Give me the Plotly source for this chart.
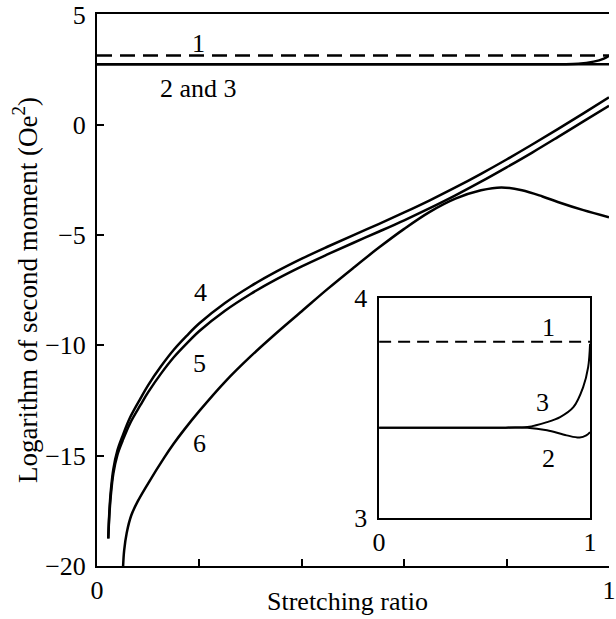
import plotly.graph_objects as go

# ---------------- main panel data ----------------
x_line1 = [0.0, 1.0]
y_line1 = [3.14, 3.14]

x_line23 = [0.0, 0.9, 0.94, 0.97, 0.99, 1.0]
y_line2 = [2.74, 2.74, 2.74, 2.74, 2.74, 2.74]
y_line3 = [2.74, 2.74, 2.76, 2.86, 3.0, 3.12]

x_line45 = [0.022, 0.024, 0.027, 0.032, 0.04, 0.05, 0.065, 0.085, 0.1, 0.125, 0.15, 0.175,
            0.2, 0.25, 0.3, 0.35, 0.4, 0.45, 0.5, 0.55, 0.6, 0.65, 0.7, 0.75, 0.8, 0.85,
            0.9, 0.95, 1.0]
y_line4 = [-18.75, -17.6, -16.6, -15.6, -14.75, -14.1, -13.25, -12.4, -11.8, -10.95, -10.2, -9.57,
           -9.0, -8.08, -7.32, -6.66, -6.07, -5.53, -5.01, -4.5, -3.975, -3.425, -2.843, -2.225,
           -1.575, -0.897, -0.197, 0.518, 1.24]
y_line5 = [-18.75, -17.75, -16.8, -15.8, -14.95, -14.32, -13.51, -12.7, -12.12, -11.28, -10.54, -9.92,
           -9.35, -8.43, -7.67, -7.01, -6.42, -5.88, -5.36, -4.85, -4.33, -3.78, -3.2, -2.58,
           -1.93, -1.26, -0.56, 0.15, 0.86]

x_line6 = [0.051, 0.053, 0.058, 0.067, 0.08, 0.1, 0.131, 0.15, 0.17, 0.2, 0.25, 0.3, 0.35,
           0.4, 0.45, 0.5, 0.55, 0.6, 0.65, 0.7, 0.75, 0.79, 0.83, 0.87, 0.9, 0.95, 1.0]
y_line6 = [-20.0, -19.3, -18.5, -17.7, -17.05, -16.25, -15.1, -14.45, -13.83, -12.97, -11.65, -10.5,
           -9.45, -8.45, -7.45, -6.5, -5.58, -4.72, -3.95, -3.35, -2.97, -2.84, -2.97, -3.25,
           -3.5, -3.87, -4.19]

main_xticks = [0, 1]
main_xminor = [0.2, 0.4, 0.6, 0.8]
main_yticks = [-20, -15, -10, -5, 0, 5]

# ---------------- inset data ----------------
xi_line1 = [0.0, 1.0]
yi_line1 = [3.80, 3.80]
xi_line3 = [0.0, 0.6, 0.703, 0.796, 0.858, 0.921, 0.967, 0.991, 1.0]
yi_line3 = [3.41, 3.41, 3.413, 3.435, 3.458, 3.503, 3.593, 3.684, 3.79]
xi_line2 = [0.0, 0.6, 0.703, 0.796, 0.889, 0.951, 0.982, 1.0]
yi_line2 = [3.41, 3.41, 3.41, 3.398, 3.375, 3.365, 3.375, 3.39]

inset_xticks = [0, 1]
inset_yticks = [3, 4]

# curve labels
main_labels = [("1", 0.198, 3.67), ("2 and 3", 0.198, 1.63), ("4", 0.202, -7.59),
               ("5", 0.200, -10.83), ("6", 0.200, -14.45)]
inset_labels = [("1", 0.804, 3.864), ("3", 0.773, 3.525), ("2", 0.804, 3.27)]

FONT = "Liberation Serif, Times New Roman, serif"
FS = 26

fig = go.Figure()
lw = 2.5
spl = dict(color="black", width=lw, shape="spline", smoothing=1.0)
fig.add_trace(go.Scatter(x=x_line1, y=y_line1, mode="lines",
                         line=dict(color="black", width=lw, dash="15px,8px")))
fig.add_trace(go.Scatter(x=x_line23, y=y_line2, mode="lines", line=spl))
fig.add_trace(go.Scatter(x=x_line23, y=y_line3, mode="lines", line=spl))
fig.add_trace(go.Scatter(x=x_line45, y=y_line4, mode="lines", line=spl))
fig.add_trace(go.Scatter(x=x_line45, y=y_line5, mode="lines", line=spl))
fig.add_trace(go.Scatter(x=x_line6, y=y_line6, mode="lines", line=spl))

lwi = 2.0
spli = dict(color="black", width=lwi, shape="spline", smoothing=1.0)
fig.add_trace(go.Scatter(x=xi_line1, y=yi_line1, mode="lines", xaxis="x2", yaxis="y2",
                         line=dict(color="black", width=lwi, dash="12px,7px")))
fig.add_trace(go.Scatter(x=xi_line3, y=yi_line3, mode="lines", xaxis="x2", yaxis="y2", line=spli))
fig.add_trace(go.Scatter(x=xi_line2, y=yi_line2, mode="lines", xaxis="x2", yaxis="y2", line=spli))

annotations = []
for t, x, y in main_labels:
    annotations.append(dict(text=t, x=x, y=y, xref="x", yref="y", showarrow=False,
                            font=dict(family=FONT, size=FS, color="black")))
for t, x, y in inset_labels:
    annotations.append(dict(text=t, x=x, y=y, xref="x2", yref="y2", showarrow=False,
                            font=dict(family=FONT, size=FS, color="black")))
annotations.append(dict(text="Stretching ratio", x=0.49, y=-0.065, xref="paper", yref="paper",
                        showarrow=False, yanchor="middle",
                        font=dict(family=FONT, size=FS, color="black")))

fig.update_layout(
    width=616, height=619,
    margin=dict(l=97, r=0, t=13, b=53),
    paper_bgcolor="white", plot_bgcolor="white",
    showlegend=False,
    font=dict(family=FONT, size=FS, color="black"),
    annotations=annotations,
    xaxis=dict(domain=[0, 1], range=[0, 1.0], showgrid=False, zeroline=False,
               showline=True, linecolor="black", linewidth=2, mirror=True,
               ticks="inside", ticklen=7, tickwidth=1.5, tickcolor="black",
               tickvals=main_xticks, ticklabelstandoff=0,
               minor=dict(tickvals=main_xminor, ticks="inside", ticklen=7, tickwidth=1.5,
                          tickcolor="black", showgrid=False)),
    yaxis=dict(domain=[0, 1], range=[-20, 5.02], showgrid=False, zeroline=False,
               showline=True, linecolor="black", linewidth=2, mirror=False,
               ticks="inside", ticklen=7, tickwidth=1.5, tickcolor="black",
               tickvals=main_yticks, ticklabelstandoff=4,
               title=dict(text="Logarithm of second moment (Oe<sup>2</sup>)", standoff=0,
                          font=dict(family=FONT, size=27))),
    xaxis2=dict(domain=[0.551, 0.963], anchor="y2", range=[0, 1], showgrid=False,
                zeroline=False, showline=True, linecolor="black", linewidth=1.5, mirror=True,
                ticks="", tickvals=inset_xticks, ticklabelstandoff=0),
    yaxis2=dict(domain=[0.0868, 0.4864], anchor="x2", range=[3, 4], showgrid=False,
                zeroline=False, showline=True, linecolor="black", linewidth=1.5, mirror=True,
                ticks="", tickvals=inset_yticks, ticklabelstandoff=5),
)

fig.write_html("out.html")
